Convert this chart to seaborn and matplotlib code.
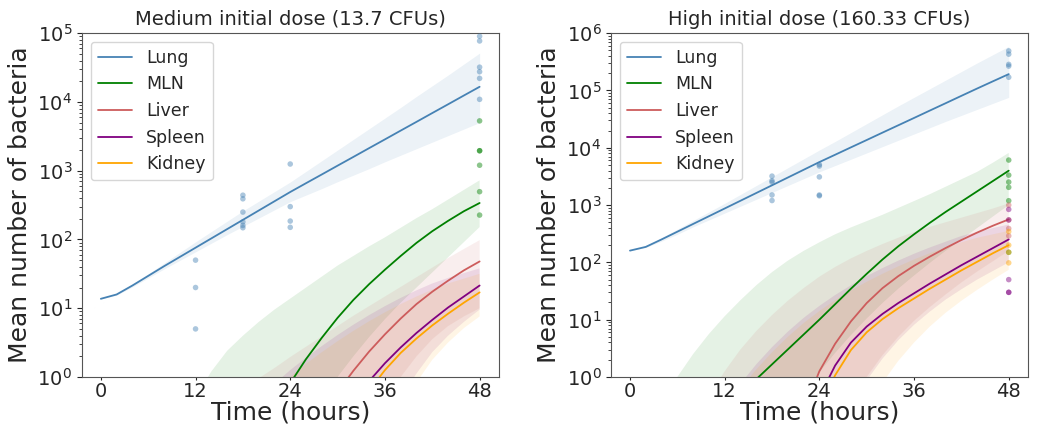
import numpy as np
import pandas as pd
import matplotlib
matplotlib.use("Agg")
import matplotlib.pyplot as plt
import seaborn as sns

# time grid (hours) and organ names
hours = [0, 2, 4, 6, 8, 10, 12, 14, 16, 18, 20, 22, 24,
         26, 28, 30, 32, 34, 36, 38, 40, 42, 44, 46, 48]
organs = ["Lung", "MLN", "Liver", "Spleen", "Kidney"]
colors = {"Lung": "steelblue", "MLN": "green", "Liver": "indianred",
          "Spleen": "purple", "Kidney": "orange"}

# ---- medium dose: log10 of model mean / lower / upper ----
med_lung = [1.137, 1.20, 1.33, 1.47, 1.61, 1.745, 1.88, 2.015, 2.15, 2.285, 2.42, 2.555, 2.69,
            2.818, 2.945, 3.073, 3.20, 3.328, 3.455, 3.583, 3.71, 3.838, 3.965, 4.093, 4.22]
med_lung_hi = [1.137, 1.21, 1.35, 1.50, 1.655, 1.81, 1.965, 2.115, 2.265, 2.415, 2.555, 2.695, 2.835,
               2.99, 3.145, 3.30, 3.455, 3.61, 3.765, 3.92, 4.08, 4.235, 4.39, 4.55, 4.71]
med_lung_lo = [1.137, 1.19, 1.31, 1.44, 1.57, 1.695, 1.82, 1.945, 2.07, 2.19, 2.31, 2.43, 2.55,
               2.645, 2.74, 2.84, 2.935, 3.03, 3.13, 3.225, 3.32, 3.415, 3.51, 3.605, 3.70]
med_mln = [-8.2, -7.1, -6.1, -5.2, -4.4, -3.65, -3.0, -2.4, -1.86, -1.36, -0.9, -0.48, -0.09,
           0.26, 0.57, 0.86, 1.12, 1.35, 1.56, 1.76, 1.95, 2.12, 2.27, 2.41, 2.53]
med_mln_hi = [-3.7, -3.0, -2.4, -1.8, -1.25, -0.75, -0.3, 0.08, 0.38, 0.6, 0.8, 0.98, 1.14,
              1.3, 1.46, 1.62, 1.76, 1.9, 2.03, 2.17, 2.31, 2.44, 2.58, 2.72, 2.86]
med_mln_lo = [-9.0, -8.1, -7.2, -6.4, -5.6, -4.9, -4.2, -3.6, -3.0, -2.45, -1.95, -1.5, -1.08,
              -0.68, -0.32, 0.0, 0.3, 0.58, 0.84, 1.08, 1.3, 1.52, 1.74, 1.96, 2.18]
med_liver = [-10.0, -9.0, -8.0, -7.1, -6.3, -5.5, -4.8, -4.1, -3.45, -2.87, -2.33, -1.83, -1.37,
             -0.95, -0.57, -0.22, 0.09, 0.37, 0.62, 0.85, 1.06, 1.24, 1.40, 1.55, 1.68]
med_liver_hi = [-3.85, -3.25, -2.7, -2.2, -1.75, -1.35, -1.0, -0.7, -0.42, -0.2, -0.02, 0.13, 0.29,
                0.44, 0.59, 0.74, 0.89, 1.03, 1.17, 1.31, 1.45, 1.59, 1.73, 1.86, 1.99]
med_liver_lo = [-11.7, -11.0, -10.3, -9.6, -8.9, -8.2, -7.5, -6.8, -6.1, -5.4, -4.7, -4.0, -3.3,
                -2.7, -2.1, -1.6, -1.15, -0.75, -0.35, 0.0, 0.3, 0.55, 0.74, 0.88, 1.0]
med_spleen = [-9.7, -9.0, -8.3, -7.6, -6.9, -6.2, -5.5, -4.85, -4.2, -3.6, -3.0, -2.45, -1.95,
              -1.5, -1.08, -0.7, -0.36, -0.06, 0.2, 0.43, 0.64, 0.83, 1.01, 1.17, 1.33]
med_spleen_hi = [-5.2, -4.5, -3.85, -3.25, -2.7, -2.2, -1.73, -1.32, -0.95, -0.62, -0.34, -0.1, 0.1,
                 0.28, 0.45, 0.61, 0.76, 0.9, 1.03, 1.15, 1.26, 1.36, 1.44, 1.51, 1.58]
med_spleen_lo = [-12.5, -11.8, -11.1, -10.4, -9.7, -9.0, -8.3, -7.6, -6.9, -6.2, -5.5, -4.8, -4.1,
                 -3.45, -2.8, -2.2, -1.65, -1.15, -0.7, -0.3, 0.05, 0.36, 0.6, 0.8, 0.98]
med_kidney = [-10.0, -9.25, -8.55, -7.85, -7.15, -6.45, -5.75, -5.1, -4.45, -3.85, -3.25, -2.7, -2.2,
              -1.72, -1.28, -0.88, -0.52, -0.2, 0.1, 0.35, 0.56, 0.75, 0.92, 1.08, 1.23]
med_kidney_hi = [-5.38, -4.68, -4.03, -3.43, -2.88, -2.37, -1.9, -1.48, -1.1, -0.76, -0.47, -0.22, 0.0,
                 0.19, 0.36, 0.52, 0.67, 0.81, 0.94, 1.06, 1.17, 1.27, 1.36, 1.43, 1.5]
med_kidney_lo = [-13.0, -12.3, -11.6, -10.9, -10.2, -9.5, -8.8, -8.1, -7.4, -6.7, -6.0, -5.3, -4.6,
                 -3.9, -3.25, -2.6, -2.0, -1.45, -0.95, -0.5, -0.08, 0.25, 0.5, 0.71, 0.88]

# ---- high dose ----
high_lung = [2.205, 2.27, 2.40, 2.535, 2.67, 2.805, 2.94, 3.075, 3.21, 3.345, 3.48, 3.615, 3.75,
             3.878, 4.007, 4.135, 4.264, 4.392, 4.52, 4.649, 4.777, 4.906, 5.034, 5.16, 5.285]
high_lung_hi = [2.205, 2.28, 2.43, 2.58, 2.73, 2.88, 3.03, 3.185, 3.34, 3.495, 3.65, 3.805, 3.96,
                4.11, 4.265, 4.42, 4.575, 4.73, 4.88, 5.03, 5.18, 5.33, 5.48, 5.625, 5.77]
high_lung_lo = [2.205, 2.26, 2.37, 2.49, 2.62, 2.74, 2.86, 2.98, 3.10, 3.22, 3.34, 3.46, 3.58,
                3.69, 3.80, 3.91, 4.02, 4.13, 4.24, 4.35, 4.46, 4.565, 4.67, 4.775, 4.88]
high_mln = [-3.2, -2.65, -2.15, -1.7, -1.3, -0.95, -0.62, -0.32, -0.04, 0.22, 0.48, 0.74, 1.0,
            1.27, 1.54, 1.80, 2.05, 2.28, 2.49, 2.69, 2.88, 3.06, 3.24, 3.42, 3.6]
high_mln_hi = [-1.5, -0.95, -0.45, 0.0, 0.4, 0.75, 1.06, 1.34, 1.6, 1.83, 2.03, 2.2, 2.35,
               2.49, 2.61, 2.72, 2.83, 2.95, 3.07, 3.19, 3.32, 3.45, 3.58, 3.74, 3.91]
high_mln_lo = [-7.0, -6.25, -5.5, -4.78, -4.08, -3.42, -2.8, -2.22, -1.68, -1.18, -0.72, -0.3, 0.08,
               0.42, 0.73, 1.02, 1.29, 1.54, 1.77, 1.99, 2.2, 2.4, 2.6, 2.8, 3.0]
high_liver = [-14.2, -12.8, -11.4, -10.0, -8.6, -7.3, -6.0, -4.7, -3.5, -2.4, -1.4, -0.6, 0.1,
              0.58, 0.97, 1.29, 1.55, 1.76, 1.94, 2.1, 2.25, 2.39, 2.52, 2.64, 2.75]
high_liver_hi = [-3.35, -2.65, -2.0, -1.4, -0.85, -0.35, 0.1, 0.48, 0.8, 1.08, 1.33, 1.55, 1.75,
                 1.92, 2.07, 2.2, 2.32, 2.43, 2.53, 2.62, 2.7, 2.78, 2.86, 2.94, 3.03]
high_liver_lo = [-10.6, -9.8, -9.0, -8.2, -7.4, -6.6, -5.8, -5.0, -4.2, -3.45, -2.75, -2.1, -1.5,
                 -0.95, -0.45, 0.0, 0.38, 0.7, 0.98, 1.22, 1.44, 1.65, 1.84, 2.02, 2.2]
high_spleen = [-14.2, -12.9, -11.6, -10.3, -9.0, -7.7, -6.5, -5.3, -4.1, -3.0, -2.0, -1.1, -0.35,
               0.2, 0.6, 0.88, 1.1, 1.29, 1.46, 1.63, 1.79, 1.95, 2.1, 2.25, 2.4]
high_spleen_hi = [-4.3, -3.55, -2.85, -2.2, -1.6, -1.05, -0.55, -0.12, 0.22, 0.52, 0.79, 1.03, 1.24,
                  1.43, 1.6, 1.76, 1.9, 2.03, 2.15, 2.26, 2.36, 2.46, 2.53, 2.6, 2.66]
high_spleen_lo = [-10.65, -9.85, -9.05, -8.25, -7.45, -6.65, -5.85, -5.05, -4.25, -3.5, -2.8, -2.15, -1.55,
                  -1.0, -0.5, -0.06, 0.32, 0.64, 0.91, 1.14, 1.35, 1.53, 1.7, 1.85, 2.0]
high_kidney = [-14.4, -13.1, -11.8, -10.5, -9.2, -7.9, -6.7, -5.5, -4.3, -3.2, -2.2, -1.3, -0.55,
               0.03, 0.47, 0.78, 1.01, 1.2, 1.37, 1.54, 1.7, 1.86, 2.01, 2.16, 2.3]
high_kidney_hi = [-4.35, -3.6, -2.9, -2.25, -1.65, -1.1, -0.62, -0.2, 0.13, 0.43, 0.7, 0.94, 1.15,
                  1.34, 1.51, 1.66, 1.8, 1.93, 2.05, 2.16, 2.26, 2.35, 2.43, 2.49, 2.55]
high_kidney_lo = [-11.5, -10.7, -9.9, -9.1, -8.3, -7.5, -6.7, -5.9, -5.1, -4.3, -3.55, -2.85, -2.2,
                  -1.6, -1.05, -0.55, -0.1, 0.28, 0.6, 0.88, 1.12, 1.33, 1.52, 1.7, 1.87]

# ---- observed CFU counts ----
med_obs_organ = ["Lung"] * 19 + ["MLN"] * 6
med_obs_time = [12] * 3 + [18] * 6 + [24] * 4 + [48] * 6 + [48] * 6
med_obs_cfu = [50, 20, 5,
               440, 390, 250, 180, 160, 148,
               1250, 300, 185, 150,
               90000, 77000, 32000, 27500, 22000, 10900,
               5300, 1950, 1950, 1200, 495, 226]

high_obs_organ = ["Lung"] * 15 + ["MLN"] * 6 + ["Liver"] * 4 + ["Spleen"] * 5 + ["Kidney"] * 4
high_obs_time = [18] * 5 + [24] * 5 + [48] * 5 + [48] * 6 + [48] * 4 + [48] * 5 + [48] * 4
high_obs_cfu = [3200, 2650, 2500, 1500, 1200,
                5100, 4800, 3100, 1500, 1450,
                490000, 430000, 285000, 266000, 170000,
                6100, 3330, 2520, 2040, 1190, 150,
                1000, 550, 390, 290,
                840, 550, 50, 30, 30,
                345, 200, 150, 98]

panels = [
    ("Medium initial dose (13.7 CFUs)", 1e5,
     {"Lung": (med_lung, med_lung_lo, med_lung_hi),
      "MLN": (med_mln, med_mln_lo, med_mln_hi),
      "Liver": (med_liver, med_liver_lo, med_liver_hi),
      "Spleen": (med_spleen, med_spleen_lo, med_spleen_hi),
      "Kidney": (med_kidney, med_kidney_lo, med_kidney_hi)},
     (med_obs_organ, med_obs_time, med_obs_cfu)),
    ("High initial dose (160.33 CFUs)", 1e6,
     {"Lung": (high_lung, high_lung_lo, high_lung_hi),
      "MLN": (high_mln, high_mln_lo, high_mln_hi),
      "Liver": (high_liver, high_liver_lo, high_liver_hi),
      "Spleen": (high_spleen, high_spleen_lo, high_spleen_hi),
      "Kidney": (high_kidney, high_kidney_lo, high_kidney_hi)},
     (high_obs_organ, high_obs_time, high_obs_cfu)),
]

sns.set_style("ticks")
plt.rcParams["font.family"] = ["DejaVu Sans"]

fig, axes = plt.subplots(1, 2, figsize=(10.37, 4.25), dpi=100)
fig.subplots_adjust(left=0.079, right=0.991, bottom=0.113, top=0.922, wspace=0.27)

for ax, (title, ymax, model, obs) in zip(axes, panels):
    ax.set_yscale("log")
    rows = []
    for organ in organs:
        mean, lo, hi = model[organ]
        ax.fill_between(hours, 10 ** np.array(lo), 10 ** np.array(hi),
                        color=colors[organ], alpha=0.1, linewidth=0)
        for t, m in zip(hours, mean):
            rows.append({"time": t, "cfu": 10 ** m, "organ": organ})
    curves = pd.DataFrame(rows)
    sns.lineplot(data=curves, x="time", y="cfu", hue="organ", hue_order=organs,
                 palette=colors, linewidth=1.3, errorbar=None, ax=ax)

    pts = pd.DataFrame({"organ": obs[0], "time": obs[1], "cfu": obs[2]})
    sns.scatterplot(data=pts, x="time", y="cfu", hue="organ", hue_order=organs,
                    palette=colors, alpha=0.45, s=16, linewidth=0,
                    legend=False, ax=ax, zorder=3)

    ax.set_ylim(1, ymax)
    ax.set_xlim(-2.4, 50.4)
    ax.set_xticks([0, 12, 24, 36, 48])
    ax.set_title(title, fontsize=14)
    ax.set_xlabel("Time (hours)", fontsize=18, labelpad=0)
    ax.set_ylabel("Mean number of bacteria", fontsize=18)
    ax.tick_params(axis="both", which="major", labelsize=14)
    ax.tick_params(axis="x", length=2.5, pad=1)
    for sp in ax.spines.values():
        sp.set_color("#555555")
    sns.move_legend(ax, "upper left", title=None, fontsize=12.5, frameon=True)

fig.savefig("out.png", dpi=100)
